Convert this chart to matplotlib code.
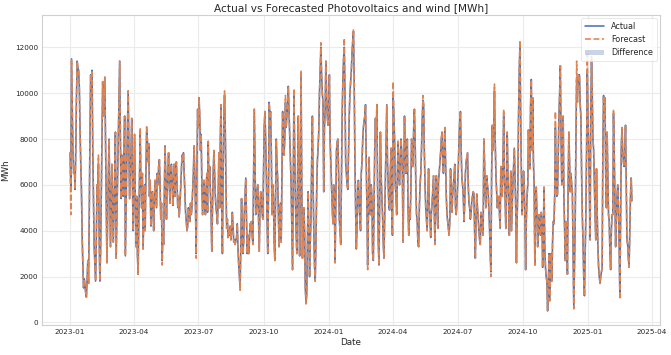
import matplotlib
matplotlib.use("Agg")
import matplotlib.pyplot as plt
import matplotlib.dates as mdates
from matplotlib.ticker import MultipleLocator
import pandas as pd
import seaborn as sns

sns.set_theme(style="whitegrid")
plt.rcParams['font.family'] = ['DejaVu Sans']

# ---------------- data (daily values, MWh) ----------------
start_date = "2023-01-01"

actual_q1_2023 = [
    7400, 5900, 11500, 9500, 7500, 6500, 6800, 5800, 7500, 9800,
    11400, 11100, 11000, 10300, 8500, 7000, 5800, 3900, 2500, 1500,
    1900, 1600, 1300, 1100, 1800, 2700, 1700, 4500, 8000, 10800,
    10500, 11000, 7500, 5500, 3300, 2500, 1800, 3500, 6000, 5200,
    6900, 3900, 1800, 3000, 5500, 8000, 10500, 9000, 9800, 10700,
    8000, 5000, 2600, 4500, 6500, 8000, 5500, 3300, 5000, 6900,
    5200, 3500, 5000, 6500, 8300, 2800, 4500, 6000, 8000, 9500,
    11400, 8000, 5400, 7300, 6500, 5500, 7500, 9000, 2900, 5000,
    7000, 8500, 10100, 7500, 5400, 6500, 7500, 8900, 6000, 4000,
    6000, 8200, 5500, 3300,
]
actual_q2_2023 = [
    5500, 3000, 2100, 4500, 6500, 8200, 6000, 5000, 6500, 3200,
    4700, 6000, 4000, 6500, 8300, 8000, 7000, 7800, 5500, 6200,
    4200, 4800, 5700, 5000, 4000, 5500, 6200, 5600, 5000, 6500,
    6000, 6800, 7100, 6000, 4500, 5200, 2700, 4000, 3400, 5500,
    7700, 6500, 4500, 5800, 6500, 7400, 6000, 5200, 6500, 6900,
    6200, 5100, 6000, 6900, 5500, 6500, 7000, 6000, 5000, 5500,
    4600, 5200, 5800, 6500, 7300, 7000, 7400, 6500, 5500, 4800,
    4400, 4000, 4200, 5000, 4600, 4400, 5200, 4700, 5000, 5700,
    6500, 7700, 6500, 5000, 3000, 6500, 9300, 8500, 9800, 9000,
    7500, 8200, 6000, 4700, 5500, 6200,
]
actual_q3_2023 = [
    5200, 4700, 5800, 6500, 4800, 7900, 6000, 6800, 5800, 4700,
    3100, 5000, 6500, 7500, 6500, 5500, 5000, 4700, 4300, 5500,
    7400, 5000, 8000, 9500, 5000, 3000, 6500, 9000, 9900, 8500,
    6000, 4100, 4500, 3700, 4000, 3800, 4200, 3600, 4000, 4800,
    4200, 3500, 3600, 3400, 3600, 3700, 4300, 3200, 2500, 2000,
    1500, 3500, 5400, 4000, 3000, 3500, 4800, 5500, 6300, 4500,
    3000, 3800, 3000, 3500, 4300, 4000, 4400, 3800, 3400, 6500,
    9300, 7000, 4700, 5000, 5800, 6000, 4500, 3100, 5000, 5700,
    5300, 4800, 4500, 6500, 8500, 9200, 8000, 6500, 4500, 3000,
    5500, 9600, 9000, 9200, 7500, 4700,
]
actual_q4_2023 = [
    6000, 5500, 3500, 2700, 5500, 8000, 7000, 6200, 4800, 3300,
    4500, 5200, 3500, 6500, 9200, 7500, 7300, 8000, 9600, 8500,
    9000, 9500, 10300, 9200, 8000, 7000, 6000, 4000, 2300, 6000,
    10000, 7500, 5400, 4000, 3000, 6000, 9000, 5500, 2900, 7000,
    10800, 6000, 2800, 4700, 5000, 4000, 1500, 900, 1200, 3500,
    5700, 4000, 2000, 3500, 4500, 7000, 9000, 6000, 4000, 2500,
    1800, 3500, 5600, 7000, 7600, 8300, 10000, 11000, 12000, 10800,
    10000, 9600, 5700, 8500, 9200, 11400, 10000, 9000, 8600, 9500,
    10800, 8000, 7000, 6100, 5000, 4300, 6000, 5500, 2600, 5000,
    7500, 7900, 8000, 6500, 4500, 4000, 3400,
]
actual_q1_2024 = [
    6000, 9000, 10500, 11500, 12000, 10000, 7000, 6500, 6000, 5800,
    7500, 9000, 10000, 10500, 11000, 11800, 12300, 12700, 10500, 7200,
    5000, 3200, 4100, 6000, 6200, 5200, 4500, 4000, 6500, 7000,
    7900, 8500, 8800, 9000, 9500, 7000, 5000, 2500, 4500, 7200,
    5500, 4700, 6000, 5500, 3000, 2700, 5000, 7500, 8900, 8000,
    9500, 6000, 3500, 2500, 5500, 8300, 6500, 5500, 4700, 3500,
    2800, 4500, 6000, 8000, 9500, 7000, 6000, 5000, 4900, 6500,
    7600, 5000, 3800, 9800, 9000, 8000, 6000, 5500, 4700, 6500,
    7900, 6500, 6000, 7000, 8000, 7500, 6500, 3500, 6500, 9000,
    7500, 6500, 7000, 8000, 5000, 3800,
]
actual_q2_2024 = [
    5000, 4500, 5800, 8000, 7500, 6800, 8500, 9300, 8000, 6000,
    4700, 4400, 3400, 3300, 5000, 6000, 6500, 7500, 8800, 9700,
    9500, 7500, 6000, 5000, 4500, 4000, 5500, 6700, 5000, 4600,
    3700, 4800, 5200, 5800, 6400, 5000, 3400, 5500, 6400, 5000,
    4100, 6200, 6500, 7000, 7400, 8000, 8300, 7000, 6500, 7500,
    8500, 7000, 5500, 4700, 4400, 4100, 3800, 4500, 6700, 5500,
    4800, 5600, 6000, 6400, 6900, 5000, 4700, 5200, 6000, 6800,
    8000, 8800, 9200, 7500, 6300, 6000, 5500, 4400, 5200, 6500,
    7000, 7200, 7400, 6000, 5200, 5000, 4500, 4800, 5300, 5500,
    5700, 5600, 4000, 2800, 4500, 5600,
]
actual_q3_2024 = [
    5000, 4600, 4000, 3600, 3400, 4800, 4600, 4000, 3800, 8000,
    7000, 5500, 5000, 6400, 6000, 5800, 5000, 4200, 3000, 2200,
    6500, 8600, 7500, 8500, 10100, 8000, 6500, 5700, 5000, 5200,
    5500, 4800, 4100, 6800, 6000, 5500, 7000, 9000, 6500, 5500,
    4100, 6000, 8300, 6500, 5200, 3800, 5000, 6600, 4000, 5000,
    6000, 6800, 7600, 6500, 5000, 2600, 4500, 6000, 9000, 11000,
    12100, 9000, 6500, 4700, 5500, 6600, 6000, 4500, 2300, 4500,
    5500, 6000, 8400, 7000, 6700, 9500, 10600, 7500, 9800, 7000,
    6000, 2500, 5500, 5900, 4500, 3300, 4500, 4700, 4000, 3800,
    4800, 4500, 2400, 4000, 5900, 3300,
]
actual_q4_2024 = [
    2400, 2000, 1800, 500, 1500, 3000, 940, 2000, 3000, 1800,
    3500, 4400, 4300, 5500, 8500, 6500, 5500, 5600, 7200, 9000,
    10000, 11200, 8000, 6000, 6300, 9000, 5500, 4000, 2700, 4400,
    3500, 2100, 6000, 8300, 6900, 5700, 6500, 6000, 5600, 3000,
    600, 2500, 4500, 8000, 10600, 9600, 10500, 10800,
]
actual_q1_2025 = [
    10800, 9500, 9000, 6500, 4700, 3500, 2000, 1160, 3000, 4700,
    7400, 11000, 9000, 7500, 6000, 3600, 9500, 11400, 10000, 8000,
    7500, 6000, 4700, 3600, 6700, 4800, 3300, 2400, 2000, 1700,
    2000, 2200, 2400, 7500, 9900, 8800, 9800, 6500, 5000, 8300,
    6500, 4700, 4400, 3000, 2300, 4000, 4700, 4700, 9100, 7500,
    5500, 3300, 4500, 5500, 6000, 5000, 3400, 1200, 4500, 7600,
    8500, 7500, 7000, 6800, 7500, 8600, 6000, 3600, 3400, 2800,
    2400, 4000, 5500, 6300, 5300,
]

# forecast equals actual except on these days (day index -> forecast MWh)
forecast_overrides = {
    1: 4700, 17: 3700, 40: 7300, 99: 8500, 108: 8600, 130: 2500,
    178: 2800, 218: 10100, 240: 1400, 304: 9900, 316: 10200,
    326: 11000, 333: 800, 354: 12200, 387: 12400, 400: 12800,
    420: 2300, 456: 10500, 498: 9900, 594: 2000, 599: 10400,
    612: 9300, 635: 12300, 685: 9200, 715: 11400, 730: 11700,
    736: 11600, 767: 9300, 776: 1000,
}

actual = (actual_q1_2023 + actual_q2_2023 + actual_q3_2023 + actual_q4_2023
          + actual_q1_2024 + actual_q2_2024 + actual_q3_2024 + actual_q4_2024
          + actual_q1_2025)
forecast = list(actual)
for day, val in forecast_overrides.items():
    forecast[day] = val

dates = pd.date_range(start_date, periods=len(actual), freq="D")

# ---------------- plot ----------------
fig = plt.figure(figsize=(6.71, 3.55), dpi=100)
ax = fig.add_axes([0.0626, 0.0845, 0.921, 0.8735])

blue = "#4C72B0"
orange = "#DD8452"

ax.plot(dates, actual, color=blue, lw=1.15, label="Actual", zorder=3)
ax.plot(dates, forecast, color=orange, lw=1.15, ls="--", label="Forecast", zorder=4)
ax.fill_between(dates, actual, forecast, color=blue, alpha=0.3,
                label="Difference", zorder=2, linewidth=0)

ax.set_title("Actual vs Forecasted Photovoltaics and wind [MWh]",
             fontsize=7.6, pad=3)
ax.set_xlabel("Date", fontsize=6.3, labelpad=2)
ax.set_ylabel("MWh", fontsize=6.3, labelpad=3)

ax.xaxis.set_major_locator(mdates.MonthLocator(bymonth=[1, 4, 7, 10]))
ax.xaxis.set_major_formatter(mdates.DateFormatter("%Y-%m"))
ax.yaxis.set_major_locator(MultipleLocator(2000))
ax.tick_params(axis="both", labelsize=5.2, pad=3, length=0)

ax.grid(True, color="#ebebeb", linewidth=0.8)
for sp in ax.spines.values():
    sp.set_color("#d0d0d0")
    sp.set_linewidth(0.8)

leg = ax.legend(loc="upper right", fontsize=5.8, frameon=True,
                handlelength=2.3, borderpad=0.5, labelspacing=0.5,
                handletextpad=0.9, borderaxespad=0.4)
leg.get_frame().set_edgecolor("#dddddd")
leg.get_frame().set_linewidth(0.6)

fig.savefig("out.png", dpi=100)
